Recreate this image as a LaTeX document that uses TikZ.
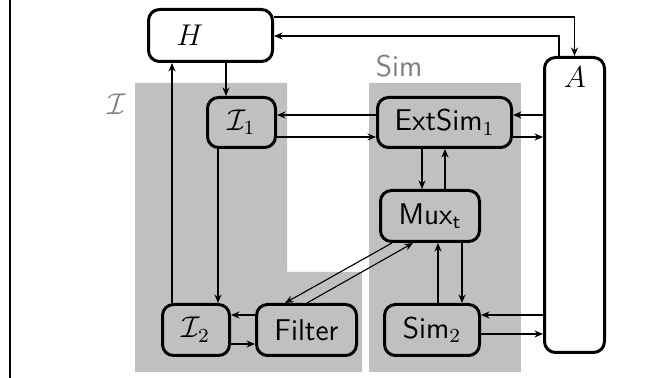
\documentclass[tikz,border=0pt]{standalone}
\usetikzlibrary{arrows.meta}
\begin{document}
\begin{tikzpicture}[x=0.4pt,y=-0.4pt,
  every node/.style={font=\large},
  blk/.style={draw,line width=1.2pt,rounded corners=4.4pt,fill=#1,inner sep=0pt,font=\large\sffamily},
  blk/.default={regfill},
  conn/.style={line width=0.45pt,-{Stealth[length=3.4pt,width=2.8pt]}},
  grouplbl/.style={text=gray,font=\large\sffamily,inner sep=0pt}]
\definecolor{regfill}{RGB}{192,192,192}
\useasboundingbox (0,0) rectangle (653,378);
% frame rule on the left
\draw[line width=0.6pt] (10,0) -- (10,378);
% shaded groups
\fill[regfill] (135,83) -- (287,83) -- (287,272) -- (362,272) -- (362,372) -- (135,372) -- cycle;
\fill[regfill] (369,83) rectangle (521,372);
\node[grouplbl] (simlbl) at (399,66) {Sim};
\node[grouplbl] (ilbl) at (117,104) {$\mathcal{I}$};
% blocks
\node[blk=white,minimum width=49.6pt,minimum height=20.8pt] (H) at (210.5,35.5) {};
\node[inner sep=0pt] (Hlbl) at (190,35) {$H$};
\node[blk=white,minimum width=24pt,minimum height=118pt] (A) at (574.5,205) {};
\node[inner sep=0pt] (Albl) at (575,77) {$A$};
\node[blk,minimum width=27.2pt,minimum height=20pt] (I1) at (241.5,122.5) {$\mathcal{I}_1$};
\node[blk,minimum width=53.6pt,minimum height=20pt] (Ext) at (444.5,122.5) {ExtSim$_1$};
\node[blk,minimum width=39.6pt,minimum height=20.4pt] (Mux) at (430,216) {Mux$_{\mathsf{t}}$};
\node[blk,minimum width=38pt,minimum height=20.4pt] (Sim2) at (432,330) {Sim$_2$};
\node[blk,minimum width=26.8pt,minimum height=20.4pt] (I2) at (196,330) {$\mathcal{I}_2$};
\node[blk,minimum width=40pt,minimum height=20.4pt] (Filter) at (306.5,330) {Filter};
% connectors
\draw[conn] (H.east |- 0,17) -| (A.north);
\draw[conn] (A.north -| 559,0) |- (H.east |- 0,36);
\draw[conn] (H.south -| 226,0) -- (I1.north -| 226,0);
\draw[conn] (I2.north -| 172,0) -- (H.south -| 172,0);
\draw[conn] (I1.south -| 218,0) -- (I2.north -| 218,0);
\draw[conn] (Ext.west |- 0,115) -- (I1.east |- 0,115);
\draw[conn] (I1.east |- 0,137) -- (Ext.west |- 0,137);
\draw[conn] (A.west |- 0,115) -- (Ext.east |- 0,115);
\draw[conn] (Ext.east |- 0,137) -- (A.west |- 0,137);
\draw[conn] (Ext.south -| 422,0) -- (Mux.north -| 422,0);
\draw[conn] (Mux.north -| 445,0) -- (Ext.south -| 445,0);
\draw[conn] (Mux.south -| 462,0) -- (Sim2.north -| 462,0);
\draw[conn] (Sim2.north -| 438,0) -- (Mux.south -| 438,0);
\draw[conn] (A.west |- 0,315) -- (Sim2.east |- 0,315);
\draw[conn] (Sim2.east |- 0,334) -- (A.west |- 0,334);
\draw[conn] (Filter.west |- 0,315) -- (I2.east |- 0,315);
\draw[conn] (I2.east |- 0,344) -- (Filter.west |- 0,344);
\draw[conn] (Mux.south -| 392,0) -- (Filter.north -| 285,0);
\draw[conn] (Filter.north -| 307,0) -- (Mux.south -| 413,0);
\end{tikzpicture}
\end{document}
